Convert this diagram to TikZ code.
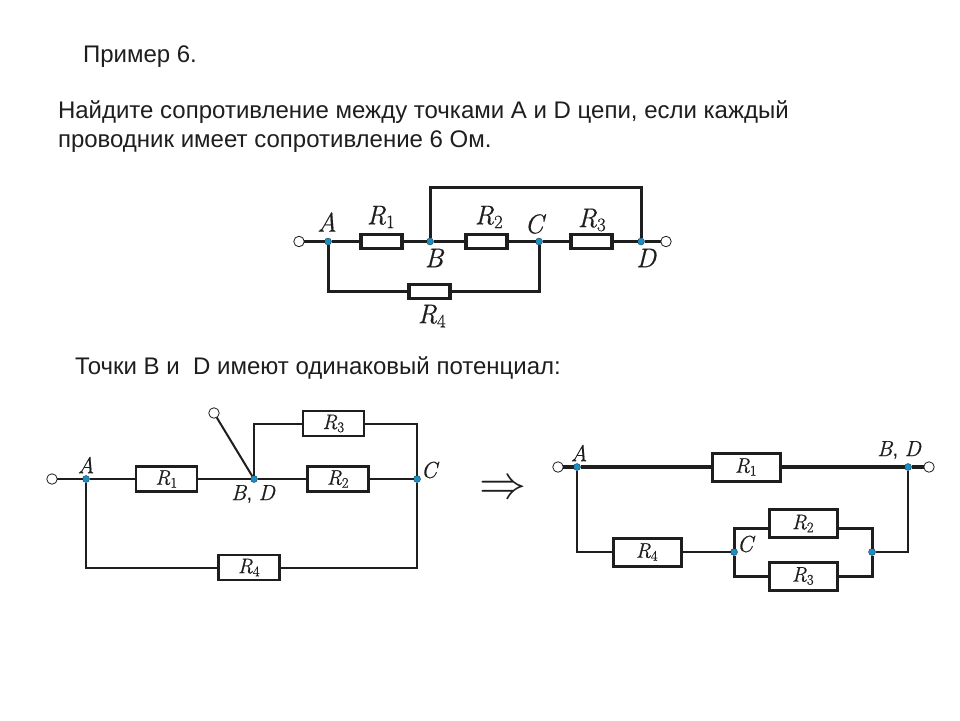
\documentclass[tikz,border=0pt]{standalone}
\usepackage{fontspec}
\setmainfont{Liberation Sans}
\newfontfamily\lbl[FakeBold=0.5]{Latin Modern Roman}
\newcommand\Ri[1]{{\lbl\itshape #1}}
\newcommand\Rs[1]{{\lbl\itshape R}\textsubscript{\lbl #1}}
\definecolor{ink}{HTML}{1E1E1E}
\definecolor{jun}{HTML}{1A8FC4}
\tikzset{
  txt/.style={anchor=base west,inner sep=0pt,outer sep=0pt,text=ink,font=\fontsize{24}{28}\selectfont},
  lab/.style={inner sep=0pt,outer sep=0pt,text=ink,font=\fontsize{#1}{#1}\selectfont},
  res/.style n args={3}{draw=ink,fill=white,rectangle,inner sep=0pt,outer sep=0pt,line width=#3,minimum width=#1,minimum height=#2,text=ink,font=\fontsize{21}{21}\selectfont},
  junc/.style={circle,fill=jun,draw=ink!70!jun,line width=0.4pt,minimum size=7pt,inner sep=0pt,outer sep=0pt},
  term/.style={circle,fill=white,draw=ink,line width=0.8pt,minimum size=10.5pt,inner sep=0pt,outer sep=0pt},
  wa/.style={draw=ink,line width=3pt,line join=miter},
  wb/.style={draw=ink,line width=2pt,line join=miter},
  wc/.style={draw=ink,line width=4pt,line join=miter},
  wd/.style={draw=ink,line width=3pt,line join=miter},
}
\begin{document}
\begin{tikzpicture}[x=1pt,y=-1pt]
\useasboundingbox (0,0) rectangle (960,720);
\fill[white] (0,0) rectangle (960,720);
% texts
\node[txt] (t1) at (83,62) {Пример 6.};
\node[txt] (t2) at (58,118) {Найдите сопротивление между точками А и D цепи, если каждый};
\node[txt] (t3) at (58,147) {проводник имеет сопротивление 6 Ом.};
\node[txt] (t4) at (75,374) {Точки В и\ \ D имеют одинаковый потенциал:};
% --- top circuit
\node[term] (a0) at (299,241.5) {};
\node[term] (a9) at (666,241.5) {};
\node[junc] (aA) at (328,241.5) {};
\node[junc] (aB) at (430,241.5) {};
\node[junc] (aC) at (539,241.5) {};
\node[junc] (aD) at (641,241.5) {};
\node[res={41pt}{14.5pt}{3.2pt}] (aR1) at (381.5,241.5) {};
\node[res={41pt}{14.5pt}{3.2pt}] (aR2) at (486.5,241.5) {};
\node[res={41pt}{14.5pt}{3.2pt}] (aR3) at (591.5,241.5) {};
\node[res={41pt}{14.5pt}{3.2pt}] (aR4) at (429.5,291.5) {};
\coordinate (atop) at (430,187.5);
\draw[wa] (a0) -- (aA) -- (aR1) -- (aB) -- (aR2) -- (aC) -- (aR3) -- (aD) -- (a9);
\draw[wa] (aB) -- (aB |- atop) -- (aD |- atop) -- (aD);
\draw[wa] (aA) |- (aR4);
\draw[wa] (aC) |- (aR4);
\node[lab=27] at (327,222) {\Ri{A}};
\node[lab=27] at (381,217) {\Rs{1}};
\node[lab=27] at (489,217) {\Rs{2}};
\node[lab=27] at (534,224) {\Ri{C}};
\node[lab=27] at (592,220) {\Rs{3}};
\node[lab=27] at (434,258) {\Ri{B}};
\node[lab=27] at (646,258) {\Ri{D}};
\node[lab=27] at (432,316) {\Rs{4}};
% --- middle circuit
\node[term] (b0) at (52,479) {};
\node[term] (b9) at (214,413) {};
\node[junc] (bA) at (86,479) {};
\node[junc] (bB) at (254,479) {};
\node[junc] (bC) at (417,479) {};
\node[res={61pt}{25pt}{2.6pt}] (bR1) at (166.5,479) {\Rs{1}};
\node[res={61pt}{25pt}{2.6pt}] (bR2) at (338,479) {\Rs{2}};
\node[res={61pt}{25pt}{2.6pt}] (bR3) at (333.5,423.5) {\Rs{3}};
\node[res={61pt}{25pt}{2.6pt}] (bR4) at (249,567.5) {\Rs{4}};
\draw[wb] (b0) -- (bA) -- (bR1) -- (bB) -- (bR2) -- (bC);
\draw[wb] (bB) |- (bR3);
\draw[wb] (bC) |- (bR3);
\draw[wb] (bB) -- (b9);
\draw[wb] (bA) |- (bR4);
\draw[wb] (bC) |- (bR4);
\node[lab=23] at (86,465) {\Ri{A}};
\node[lab=22] at (253,494) {\Ri{B}, \Ri{D}};
\node[lab=23] at (429,470) {\Ri{C}};
% --- arrow
\node[inner sep=0pt,text=ink,scale=4.7] (arr) at (503,489.5) {$\Rightarrow$};
% --- right circuit
\node[term] (c0) at (558,467) {};
\node[term] (c9) at (929,467) {};
\node[junc] (cA) at (577,467) {};
\node[junc] (cB) at (908,467) {};
\node[junc] (cC) at (734,552) {};
\node[junc] (cE) at (872,552) {};
\node[res={68pt}{28pt}{3pt}] (cR1) at (746,467) {\Rs{1}};
\node[res={68pt}{27.5pt}{3pt}] (cR2) at (803,523.5) {\Rs{2}};
\node[res={68pt}{28pt}{3pt}] (cR3) at (803,576) {\Rs{3}};
\node[res={68pt}{28pt}{3pt}] (cR4) at (647,552) {\Rs{4}};
\draw[wc] (c0) -- (cA) -- (cR1) -- (cB) -- (c9);
\draw[wb] (cA) |- (cR4);
\draw[wb] (cR4) -- (cC);
\draw[wb] (cB) |- (cE);
\coordinate (c2y) at (734,528);
\coordinate (c3y) at (734,576);
\draw[wd] (cC) -- (cC |- c2y) -- (cR2.west |- c2y);
\draw[wd] (cC) -- (cC |- c3y) -- (cR3.west);
\draw[wd] (cE) -- (cE |- c2y) -- (cR2.east |- c2y);
\draw[wd] (cE) -- (cE |- c3y) -- (cR3.east);
\node[lab=23] at (579,453) {\Ri{A}};
\node[lab=22] at (899,450) {\Ri{B}, \Ri{D}};
\node[lab=23] at (745,544) {\Ri{C}};
\end{tikzpicture}
\end{document}
